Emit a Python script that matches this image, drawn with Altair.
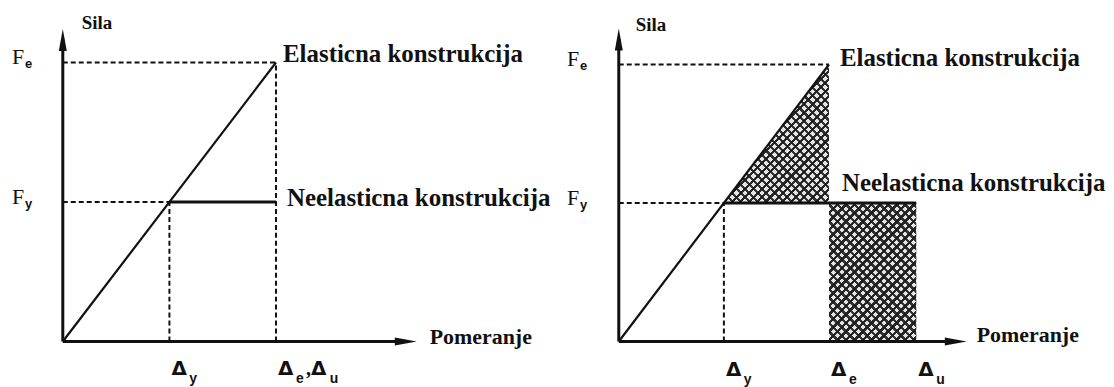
import math
import altair as alt
import pandas as pd

# ---------------- data ----------------
# displacements on the horizontal axis: Δy, Δe, Δu
disp_names = ["y", "e", "u"]
disp_left = [1.0, 2.0, 2.0]      # elastic case: Δu coincides with Δe
disp_right = [1.0, 2.0, 2.83]
# forces on the vertical axis: Fy, Fe
force_names = ["y", "e"]
force_values = [1.0, 2.0]
# where the axis arrows end (x-axis end, y-axis end)
axis_end_left = [3.32, 2.24]
axis_end_right = [3.31, 2.26]
# texts
title_x = "Pomeranje"
title_y = "Sila"
label_elastic = "Elasticna konstrukcija"
label_inelastic = "Neelasticna konstrukcija"

# ---------------- styling / layout ----------------
SERIF = "'Liberation Serif', 'Times New Roman', Times, serif"
SANS = "'Liberation Sans', Arial, sans-serif"
DELTA_FONT = "'DejaVu Sans', sans-serif"
INK = "#111111"
H = 371

geom_left = dict(w=552, h=H, ox=55, oy=334, ux=107.0, uy=140.0,
                 sila_dx=19, sila_dy=0, el_dx=7, el_dy=0, inel_dx=11, inel_dy=4,
                 pom_dx=13, pom_dy=3, f_dx=-51, d_dy=34)
geom_right = dict(w=546, h=H, ox=61, oy=334, ux=105.5, uy=139.0,
                  sila_dx=17, sila_dy=3, el_dx=11, el_dy=2, inel_dx=13, inel_dy=-12,
                  pom_dx=10, pom_dy=1, f_dx=-52, d_dy=35)


def hatch(w, h, direction, base, ink, period=6.0, line=2.4):
    """linear gradient with hard stops -> diagonal stripes at 45 degrees"""
    k = (w + h) / (w * w + h * h)
    span = (w + h) / math.sqrt(2)
    p = period / span
    lw = line / span
    stops = []
    t = 0.0
    while t < 1.0:
        b = min(t + lw, 1.0)
        c = min(t + p, 1.0)
        stops += [(t, ink), (b, ink), (b, base), (c, base)]
        t += p
    if direction == 1:
        x1, y1, x2, y2 = 0, 0, k * w, k * h
    else:
        x1, y1, x2, y2 = 0, 1, k * w, 1 - k * h
    return {"gradient": "linear", "x1": x1, "y1": y1, "x2": x2, "y2": y2,
            "stops": [{"offset": o, "color": col} for o, col in stops]}


def build_panel(disp, axis_end, g, hatched):
    DY, DE, DU = disp
    FY, FE = force_values
    xe, ye = axis_end
    xs = alt.Scale(domain=[-g["ox"] / g["ux"], (g["w"] - g["ox"]) / g["ux"]], nice=False, zero=False)
    ys = alt.Scale(domain=[-(g["h"] - g["oy"]) / g["uy"], g["oy"] / g["uy"]], nice=False, zero=False)

    def X(f):
        return alt.X(f"{f}:Q", scale=xs, axis=None)

    def Y(f):
        return alt.Y(f"{f}:Q", scale=ys, axis=None)

    def segs(rows, **mk):
        df = pd.DataFrame(rows, columns=["x", "y", "x2", "y2"])
        return alt.Chart(df).mark_rule(color=INK, **mk).encode(
            x=X("x"), y=Y("y"), x2="x2:Q", y2="y2:Q")

    def text(rows, dx, dy, size, font, weight="normal"):
        df = pd.DataFrame(rows, columns=["x", "y", "t"])
        return alt.Chart(df).mark_text(
            dx=dx, dy=dy, fontSize=size, font=font, fontWeight=weight,
            align="left", baseline="alphabetic", color=INK).encode(
            x=X("x"), y=Y("y"), text="t:N")

    layers = []

    if hatched:
        # energy areas: triangle above Fy and rectangle beyond Δe
        tri = pd.DataFrame({"x": [DY, DE], "y": [FY, FE], "y2": [FY, FY]})
        tw, th = (DE - DY) * g["ux"], (FE - FY) * g["uy"]
        rect = pd.DataFrame({"x": [DE], "x2": [DU], "y": [0.0], "y2": [FY]})
        rw, rh = (DU - DE) * g["ux"], FY * g["uy"]
        for d, base in [(1, "#e4e4e4"), (2, "rgba(0,0,0,0)")]:
            ink = "#262626" if d == 1 else "rgba(30,30,30,0.9)"
            layers.append(alt.Chart(tri).mark_area(
                fill=hatch(tw, th, d, base, ink, line=2.2), strokeWidth=0).encode(
                x=X("x"), y=Y("y"), y2="y2:Q"))
            layers.append(alt.Chart(rect).mark_rect(
                fill=hatch(rw, rh, d, base, ink, line=2.5), strokeWidth=0).encode(
                x=X("x"), x2="x2:Q", y=Y("y"), y2="y2:Q"))

    # dashed guide lines
    dashed = [(0.0, FE, DE, FE), (0.0, FY, DY, FY), (DY, 0.0, DY, FY)]
    if not hatched:
        dashed.append((DE, 0.0, DE, FE))
    layers.append(segs(dashed, strokeWidth=2, strokeDash=[5, 3]))

    # load-displacement lines
    layers.append(segs([(0.0, 0.0, DE, FE)], strokeWidth=2.2))
    layers.append(segs([(DY, FY, DU, FY)], strokeWidth=3))

    # axes (stopping under the arrow heads)
    layers.append(segs([(0.0, 0.0, xe - 10 / g["ux"], 0.0),
                        (0.0, 0.0, 0.0, ye - 10 / g["uy"])], strokeWidth=3))
    layers.append(alt.Chart(pd.DataFrame({"x": [0.0], "y": [ye]})).mark_point(
        shape="M0,0L0.4,2.2L-0.4,2.2Z", size=400, filled=True, opacity=1,
        color=INK, strokeWidth=0).encode(x=X("x"), y=Y("y")))
    layers.append(alt.Chart(pd.DataFrame({"x": [xe], "y": [0.0]})).mark_point(
        shape="M0,0L-2.2,0.4L-2.2,-0.4Z", size=400, filled=True, opacity=1,
        color=INK, strokeWidth=0).encode(x=X("x"), y=Y("y")))

    # axis titles
    layers.append(text([(0.0, ye, title_y)], g["sila_dx"], g["sila_dy"], 19, SERIF, "bold"))
    layers.append(text([(xe, 0.0, title_x)], g["pom_dx"], g["pom_dy"], 22, SERIF, "bold"))

    # curve labels
    layers.append(text([(DE, FE, label_elastic)], g["el_dx"], g["el_dy"], 25, SERIF, "bold"))
    layers.append(text([(DE, FY, label_inelastic)], g["inel_dx"], g["inel_dy"], 25, SERIF, "bold"))

    # force tick labels F with subscript
    layers.append(text([(0.0, v, "F") for v in force_values], g["f_dx"], 2, 22, SERIF))
    layers.append(text([(0.0, v, n) for v, n in zip(force_values, force_names)],
                       g["f_dx"] + 13, 6, 13, SANS, "bold"))

    # displacement tick labels Δ with subscript
    if DU == DE:
        ticks = [(DY, "y"), (DE, "e")]
    else:
        ticks = [(DY, "y"), (DE, "e"), (DU, "u")]
    layers.append(text([(x, 0.0, "Δ") for x, _ in ticks], 2, g["d_dy"], 20, DELTA_FONT, "bold"))
    layers.append(text([(x, 0.0, n) for x, n in ticks], 20, g["d_dy"] + 8, 14, SANS, "bold"))
    if DU == DE:
        layers.append(text([(DE, 0.0, ",")], 30, g["d_dy"], 20, SERIF, "bold"))
        layers.append(text([(DE, 0.0, "Δ")], 35, g["d_dy"], 20, DELTA_FONT, "bold"))
        layers.append(text([(DE, 0.0, disp_names[2])], 54, g["d_dy"] + 8, 14, SANS, "bold"))

    return alt.layer(*layers).properties(width=g["w"], height=g["h"])


left = build_panel(disp_left, axis_end_left, geom_left, hatched=False)
right = build_panel(disp_right, axis_end_right, geom_right, hatched=True)

chart = alt.hconcat(left, right, spacing=0, bounds="flush").properties(
    padding=0, background="white").configure_view(stroke=None)

chart.save("out.html", embed_options={"renderer": "svg", "actions": False})
